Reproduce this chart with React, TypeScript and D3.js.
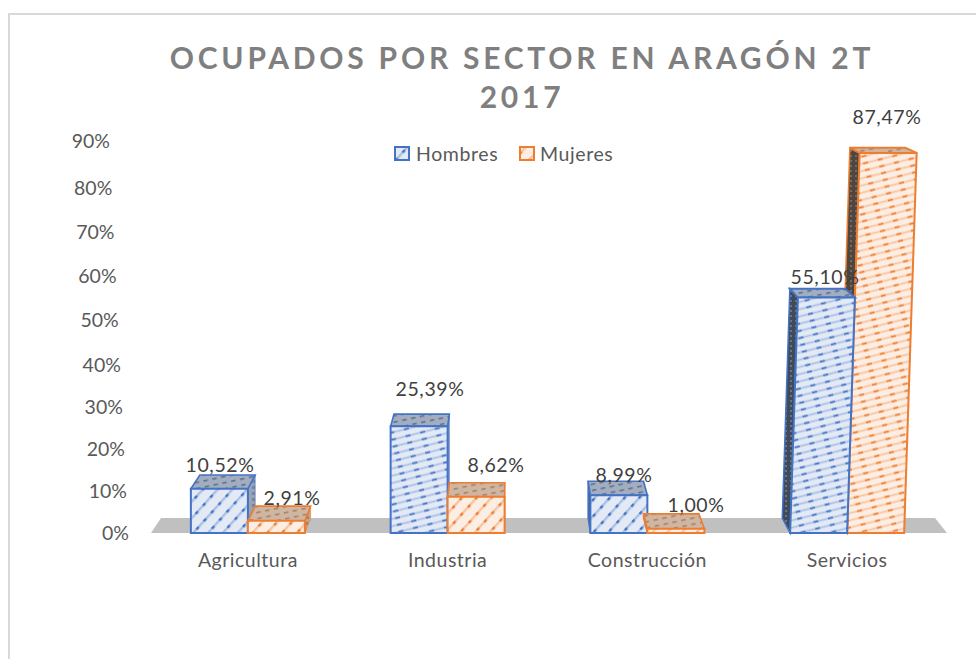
import React from "react";
import * as d3 from "d3";

const categories = ["Agricultura", "Industria", "Construcción", "Servicios"];
const seriesNames = ["Hombres", "Mujeres"];
const hombres = [10.52, 25.39, 8.99, 55.1];
const mujeres = [2.91, 8.62, 1.0, 87.47];
const yTicks = [0, 10, 20, 30, 40, 50, 60, 70, 80, 90];
const titleLines = ["OCUPADOS POR SECTOR EN ARAGÓN 2T", "2017"];

const W = 976, H = 659;
const FONT = "Lato, sans-serif";
// vertical axis as it appears after the 3D projection
const y = d3.scaleLinear().domain(yTicks).range([533, 491, 449, 407, 365, 320, 276, 232, 188, 141]);
const x0 = d3.scaleBand().domain(categories).range([148, 947]);
const barW = 57;
const lean = [0, 0, 0, 0.033];
const weave = ["C", "F", "C", "F"];
const weaveO = ["C", "C", "C", "F"];
const labelPos = [
  [[220, 472], [292, 505]],
  [[430, 396], [496, 472]],
  [[624, 482], [696, 512]],
  [[825, 284], [887, 124]],
];
const palette = [
  { line: "#4472c4", soft: "#a9c0e6", light: "#e3eaf6", id: "b" },
  { line: "#ed7d31", soft: "#f8c4a0", light: "#fdeee3", id: "o" },
];
const backDx = (x: number) => (510 - x) * 0.028;
const depth = (h: number) => -(15 - 0.026 * h);

function Bar({ ci, si, v }: { ci: number; si: number; v: number }) {
  const p = palette[si];
  const xL = (x0(categories[ci]) as number) + x0.bandwidth() / 2 + (si === 0 ? -barW : 0);
  const xR = xL + barW;
  const base = y(0), top = y(v);
  const h = base - top;
  const l = lean[ci] * h;
  const dy = depth(h);
  const tl: [number, number] = [xL + l, top], tr: [number, number] = [xR + l, top];
  const bl = [xL + backDx(tl[0]) + l, top + dy], br = [xR + backDx(tr[0]) + l, top + dy];
  const poly = (pts: number[][]) => pts.map((q) => q.join(",")).join(" ");
  const frontFill = `url(#${p.id}${si === 0 ? weave[ci] : weaveO[ci]})`;
  const dark = ci === 3;
  return (
    <g>
      {bl[0] < tl[0] && (
        <polygon
          points={poly([bl, tl, [xL, base], [xL + backDx(xL), base + depth(0)]])}
          fill={`url(#${p.id}SideDark)`}
          stroke={p.line}
          strokeWidth={1.5}
        />
      )}
      {br[0] > tr[0] && (
        <polygon
          points={poly([tr, br, [xR + backDx(xR), base + depth(0)], [xR, base]])}
          fill={`url(#${p.id}Side)`}
          stroke={p.line}
          strokeWidth={1}
          strokeOpacity={0.6}
        />
      )}
      <polygon points={poly([tl, tr, br, bl])} fill={`url(#${p.id}Top)`} stroke={p.line} strokeWidth={dark ? 2 : 1.6} />
      <polygon points={poly([[xL, base], [xR, base], tr, tl])} fill={frontFill} stroke={p.line} strokeWidth={2} />
    </g>
  );
}

function Patterns() {
  return (
    <defs>
      {palette.map((p) => (
        <React.Fragment key={p.id}>
          <pattern id={`${p.id}C`} width={11} height={11} patternUnits="userSpaceOnUse" patternTransform="rotate(-48)">
            <rect width={11} height={11} fill={p.light} />
            <rect y={4} width={11} height={2.4} fill={p.soft} />
            <rect x={2} y={4} width={3.4} height={2.4} fill={p.line} />
          </pattern>
          <pattern id={`${p.id}F`} width={15} height={7} patternUnits="userSpaceOnUse" patternTransform="rotate(-14)">
            <rect width={15} height={7} fill={p.light} />
            <rect y={2.6} width={15} height={1.8} fill={p.soft} />
            <rect x={3} y={2.6} width={5} height={1.8} fill={p.line} />
          </pattern>
          <pattern id={`${p.id}Top`} width={9} height={6} patternUnits="userSpaceOnUse" patternTransform="rotate(-12)">
            <rect width={9} height={6} fill={p.id === "b" ? "#a2adc0" : "#cfb6a2"} />
            <rect y={2} width={4.5} height={1.6} fill={p.id === "b" ? "#5d6f91" : "#a9805f"} />
          </pattern>
          <pattern id={`${p.id}Side`} width={6} height={6} patternUnits="userSpaceOnUse">
            <rect width={6} height={6} fill={p.id === "b" ? "#98a3b6" : "#c2a48e"} />
            <rect width={3} height={3} fill={p.id === "b" ? "#76849e" : "#a8835f"} />
          </pattern>
          <pattern id={`${p.id}SideDark`} width={5} height={5} patternUnits="userSpaceOnUse">
            <rect width={5} height={5} fill={p.id === "b" ? "#3f4a5b" : "#4f4640"} />
            <rect width={2} height={2} fill={p.id === "b" ? "#6a7484" : "#76695f"} />
          </pattern>
        </React.Fragment>
      ))}
    </defs>
  );
}

export default function App() {
  const values = [hombres, mujeres];
  const pct = (v: number) => v.toFixed(2).replace(".", ",") + "%";
  return (
    <svg width={W} height={H} style={{ position: "absolute", left: 0, top: 0, display: "block", background: "#fff" }}>
      <Patterns />
      <path d={`M${W},14H9V${H}`} fill="none" stroke="#d9d9d9" strokeWidth={2} />

      {titleLines.map((t, i) => (
        <text
          key={t}
          x={522}
          y={69 + i * 39}
          textAnchor="middle"
          fontFamily={FONT}
          fontWeight={700}
          fontSize={30}
          letterSpacing={3.75}
          fill="#7f7f7f"
        >
          {t}
        </text>
      ))}

      {yTicks.map((t) => (
        <text
          key={t}
          x={129 - (533 - y(t)) * 0.0485}
          y={y(t) + 7}
          textAnchor="end"
          fontFamily={FONT}
          fontSize={19.5}
          fill="#595959"
        >
          {t}%
        </text>
      ))}

      <polygon points={`151,533 161,518 935,518 947,533`} fill="#c0c0c0" />

      {categories.map((c, ci) => {
        const order = ci === 3 ? [1, 0] : [0, 1];
        return (
          <g key={c}>
            {order.map((si) => (
              <Bar key={si} ci={ci} si={si} v={values[si][ci]} />
            ))}
          </g>
        );
      })}

      {categories.map((c) => (
        <text
          key={c}
          x={(x0(c) as number) + x0.bandwidth() / 2}
          y={567}
          textAnchor="middle"
          fontFamily={FONT}
          fontSize={19.5}
          letterSpacing={0.5}
          fill="#595959"
        >
          {c}
        </text>
      ))}

      {categories.map((c, ci) =>
        values.map((s, si) => (
          <text
            key={c + si}
            x={labelPos[ci][si][0]}
            y={labelPos[ci][si][1]}
            textAnchor="middle"
            fontFamily={FONT}
            fontSize={19.5}
            letterSpacing={0.6}
            fill="#404040"
          >
            {pct(s[ci])}
          </text>
        ))
      )}

      {seriesNames.map((n, i) => {
        const sx = [395, 520][i], tx = [416, 540][i];
        const p = palette[i];
        return (
          <g key={n}>
            <rect x={sx} y={147} width={14} height={13} fill={`url(#${p.id}C)`} stroke={p.line} strokeWidth={2} />
            <text x={tx} y={160.5} fontFamily={FONT} fontSize={19.5} letterSpacing={0.6} fill="#595959">
              {n}
            </text>
          </g>
        );
      })}
    </svg>
  );
}
